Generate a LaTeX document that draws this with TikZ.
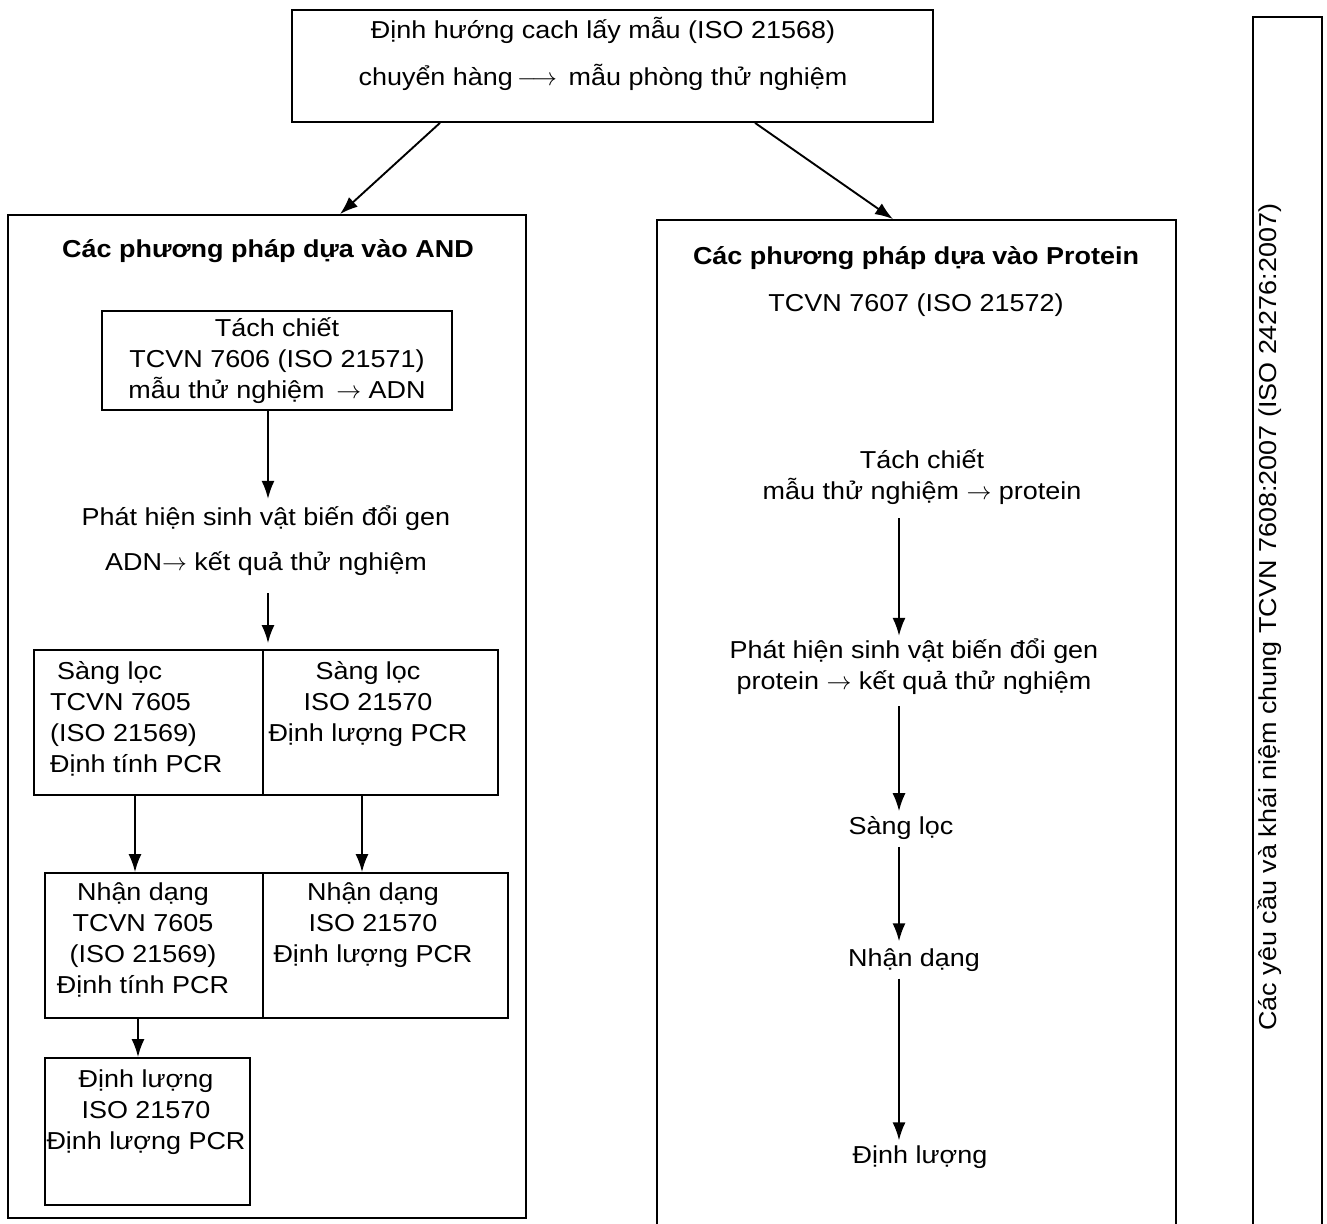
\documentclass[tikz,border=0pt]{standalone}
\usepackage{fontspec}
\setmainfont[FakeStretch=1.1]{Liberation Sans}
\usetikzlibrary{arrows.meta}
\begin{document}
\begin{tikzpicture}[x=1pt,y=-1pt,
 box/.style={draw, line width=1.8pt, inner sep=0pt},
 txt/.style={font=\fontsize{24.5}{31}\selectfont, align=center, inner sep=3pt},
 ttl/.style={font=\fontsize{24.5}{31}\selectfont\bfseries, align=center, inner sep=3pt},
 arr/.style={line width=1.9pt, -{Latex[length=18pt,width=13pt]}},
]
\useasboundingbox[fill=white] (0,0) rectangle (1327,1223);

% containers
\node[box, minimum width=641pt, minimum height=112pt] (topbox) at (612.5,66) {};
\node[box, minimum width=518pt, minimum height=1003pt] (leftbox) at (267,716.5) {};
\node[box, minimum width=519pt, minimum height=1008pt] (rightbox) at (916.5,724) {};
\node[box, minimum width=69pt, minimum height=1210pt] (strip) at (1287.5,622) {};

% top text
\node[txt] (toptext) at (603,54)
 {Định hướng cach lấy mẫu (ISO 21568)\\[16pt]chuyển hàng\,$\longrightarrow$\, mẫu phòng thử nghiệm};

% vertical strip text
\node[txt, rotate=90] (striptext) at (1270,617)
 {Các yêu cầu và khái niệm chung TCVN 7608:2007 (ISO 24276:2007)};

% left column
\node[ttl] (ltitle) at (268,251) {Các phương pháp dựa vào AND};
\node[box, minimum width=350pt, minimum height=99pt] (tach1) at (277,360.5) {};
\node[txt] (tach1t) at (277,361) {Tách chiết\\TCVN 7606 (ISO 21571)\\mẫu thử nghiệm \,$\rightarrow$ ADN};
\node[txt] (phat1) at (266,541) {Phát hiện sinh vật biến đổi gen\\[14pt]ADN$\rightarrow$ kết quả thử nghiệm};

\node[box, minimum width=229pt, minimum height=145pt] (sangL) at (148.5,722.5) {};
\node[box, minimum width=235pt, minimum height=145pt] (sangR) at (380.5,722.5) {};
\node[txt, align=left, anchor=west] (sangLt) at (47,719) {\hspace{7pt}Sàng lọc\\TCVN 7605\\(ISO 21569)\\Định tính PCR};
\node[txt] (sangRt) at (368,704) {Sàng lọc\\ISO 21570\\Định lượng PCR};

\node[box, minimum width=218pt, minimum height=145pt] (nhanL) at (154,945.5) {};
\node[box, minimum width=245pt, minimum height=145pt] (nhanR) at (385.5,945.5) {};
\node[txt] (nhanLt) at (143,940) {Nhận dạng\\TCVN 7605\\(ISO 21569)\\Định tính PCR};
\node[txt] (nhanRt) at (373,925) {Nhận dạng\\ISO 21570\\Định lượng PCR};

\node[box, minimum width=205pt, minimum height=147pt] (dinhL) at (147.5,1131.5) {};
\node[txt] (dinhLt) at (146,1112) {Định lượng\\ISO 21570\\Định lượng PCR};

% right column
\node[ttl] (rtitle) at (916,258) {Các phương pháp dựa vào Protein};
\node[txt] (rstd) at (916,305) {TCVN 7607 (ISO 21572)};
\node[txt] (tach2) at (922,477.5) {Tách chiết\\mẫu thử nghiệm $\rightarrow$ protein};
\node[txt] (phat2) at (914,667) {Phát hiện sinh vật biến đổi gen\\protein $\rightarrow$ kết quả thử nghiệm};
\node[txt] (sang2) at (901,828) {Sàng lọc};
\node[txt] (nhan2) at (914,960) {Nhận dạng};
\node[txt] (dinh2) at (920,1157) {Định lượng};
\coordinate (ax) at (899,0);
\coordinate (lx) at (268,0);

% connectors
\draw[arr] ([xshift=-172.5pt]topbox.south) -- ([xshift=73pt]leftbox.north);
\draw[arr] ([xshift=142.5pt]topbox.south) -- ([xshift=-23.5pt]rightbox.north);

\draw[arr] (tach1.south -| lx) -- ([yshift=4pt]phat1.north -| lx);
\draw[arr, shorten <=14pt, shorten >=6pt] (phat1.south -| lx) -- (sangL.north -| lx);
\draw[arr] ([xshift=-13.5pt]sangL.south) -- (nhanL.north -| {(135,0)});
\draw[arr] ([xshift=-18.5pt]sangR.south) -- (nhanR.north -| {(362,0)});
\draw[arr] ([xshift=-16pt]nhanL.south) -- (dinhL.north -| {(138,0)});

\draw[arr, shorten <=10pt] (tach2.south -| ax) -- (phat2.north -| ax);
\draw[arr, shorten <=8pt, shorten >=2pt] (phat2.south -| ax) -- (sang2.north -| ax);
\draw[arr, shorten <=4pt, shorten >=4pt] (sang2.south -| ax) -- (nhan2.north -| ax);
\draw[arr, shorten <=4pt, shorten >=2pt] (nhan2.south -| ax) -- (dinh2.north -| ax);
\end{tikzpicture}
\end{document}
